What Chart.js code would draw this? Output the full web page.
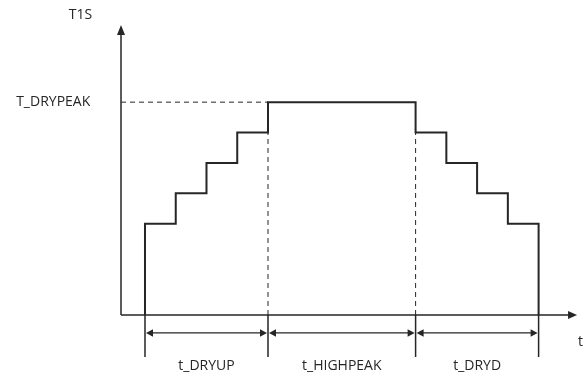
<!DOCTYPE html>
<html>
<head>
<meta charset="utf-8">
<script src="https://cdn.jsdelivr.net/npm/chart.js@4"></script>
<style>
body{margin:0;background:#fff;}
#wrap{width:587px;height:382px;position:relative;}
</style>
</head>
<body>
<div id="wrap"><canvas id="chart"></canvas></div>
<script>
// step profile of T1S over time (one unit = one step)
const stepTimes  = [0, 0, 1, 2, 3, 4, 8.8, 9.8, 10.8, 11.8, 12.8];
const stepLevels = [0, 3, 4, 5, 6, 7, 6,   5,   4,    3,    0];

const peakLevel = 7;
const phaseTimes  = [0, 4, 8.8, 12.8];
const phaseLabels = ["t_DRYUP", "t_HIGHPEAK", "t_DRYD"];

const yTitle = "T1S";
const xTitle = "t";
const peakLabel = "T_DRYPEAK";

// axis geometry in data units
const axisX = -0.78;
const axisTopY = 9.54;
const axisRightX = 14.05;

const ink = "#262626";
const FONT = "14px 'Open Sans', sans-serif";

function arrowHead(ctx, x, y, dx, dy, len, half){
  ctx.beginPath();
  ctx.moveTo(x, y);
  ctx.lineTo(x - dx*len - dy*half, y - dy*len + dx*half);
  ctx.lineTo(x - dx*len + dy*half, y - dy*len - dx*half);
  ctx.closePath();
  ctx.fill();
}

const diagram = {
  id: "diagram",
  beforeDatasetsDraw(chart){
    const ctx = chart.ctx;
    const xs = chart.scales.x, ys = chart.scales.y;
    const X = v => xs.getPixelForValue(v);
    const Y = v => ys.getPixelForValue(v);
    ctx.save();
    ctx.strokeStyle = ink;
    ctx.fillStyle = ink;
    ctx.lineWidth = 1.5;
    // axes
    ctx.beginPath();
    ctx.moveTo(X(axisX), Y(0));
    ctx.lineTo(X(axisX), Y(axisTopY) + 6);
    ctx.moveTo(X(axisX), Y(0));
    ctx.lineTo(X(axisRightX) - 6, Y(0));
    ctx.stroke();
    arrowHead(ctx, X(axisX), Y(axisTopY), 0, -1, 10, 4);
    arrowHead(ctx, X(axisRightX), Y(0), 1, 0, 9, 4);
    ctx.restore();
  },
  afterDatasetsDraw(chart){
    const ctx = chart.ctx;
    const xs = chart.scales.x, ys = chart.scales.y;
    const X = v => xs.getPixelForValue(v);
    const Y = v => ys.getPixelForValue(v);
    ctx.save();
    ctx.strokeStyle = ink;
    ctx.fillStyle = ink;
    ctx.lineWidth = 1.5;
    // extension lines
    ctx.beginPath();
    phaseTimes.forEach(t=>{
      ctx.moveTo(X(t), Y(0));
      ctx.lineTo(X(t), Y(-1.38));
    });
    ctx.stroke();
    // dimension arrows
    const ay = Y(-0.59);
    ctx.lineWidth = 1.3;
    for(let i=0;i<phaseLabels.length;i++){
      const a = X(phaseTimes[i]) + 1, b = X(phaseTimes[i+1]) - 1;
      ctx.beginPath();
      ctx.moveTo(a + 4, ay);
      ctx.lineTo(b - 4, ay);
      ctx.stroke();
      arrowHead(ctx, a, ay, -1, 0, 7, 3.8);
      arrowHead(ctx, b, ay, 1, 0, 7, 3.8);
    }
    // texts
    ctx.font = FONT;
    ctx.textBaseline = "middle";
    ctx.textAlign = "center";
    phaseLabels.forEach((l,i)=>{
      ctx.fillText(l, (X(phaseTimes[i]) + X(phaseTimes[i+1]))/2, Y(-1.68));
    });
    ctx.fillText(yTitle, X(-2.1), Y(9.87));
    ctx.textAlign = "left";
    ctx.fillText(xTitle, X(14.08), Y(-0.9));
    ctx.textAlign = "right";
    ctx.fillText(peakLabel, X(-1.78), Y(peakLevel));
    ctx.restore();
  }
};

const guideStyle = {
  borderColor: ink,
  borderWidth: 1,
  borderDash: [5, 4],
  pointRadius: 0,
  fill: false
};

new Chart(document.getElementById("chart"), {
  type: "line",
  data: {
    datasets: [
      Object.assign({
        data: [{x: axisX, y: peakLevel}, {x: phaseTimes[1], y: peakLevel}]
      }, guideStyle),
      Object.assign({
        data: [{x: phaseTimes[1], y: 0}, {x: phaseTimes[1], y: stepLevels[4]}]
      }, guideStyle),
      Object.assign({
        data: [{x: phaseTimes[2], y: 0}, {x: phaseTimes[2], y: stepLevels[6]}]
      }, guideStyle),
      {
        data: stepTimes.map((t,i)=>({x: t, y: stepLevels[i]})),
        stepped: true,
        borderColor: ink,
        borderWidth: 2,
        pointRadius: 0,
        fill: false
      }
    ]
  },
  options: {
    responsive: true,
    maintainAspectRatio: false,
    animation: false,
    layout: {padding: 0},
    plugins: {legend: {display: false}, tooltip: {enabled: false}},
    scales: {
      x: {type: "linear", display: false, min: -4.715, max: 14.374},
      y: {type: "linear", display: false, min: -2.204, max: 10.36}
    }
  },
  plugins: [diagram]
});
</script>
</body>
</html>
